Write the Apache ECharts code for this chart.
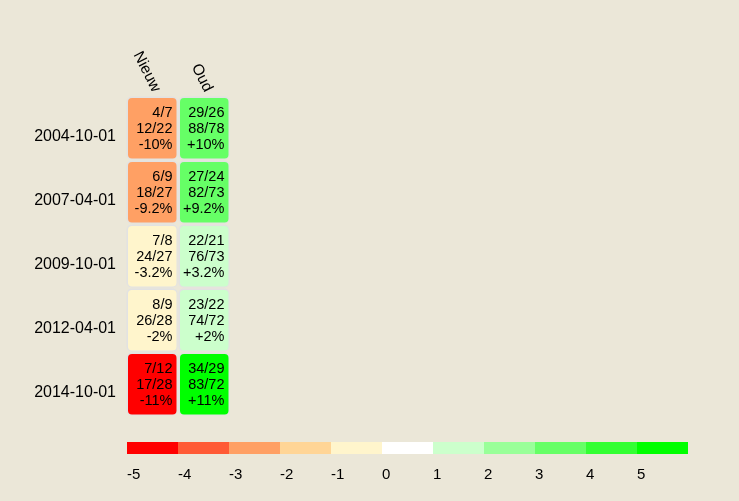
<!DOCTYPE html>
<html>
<head>
<meta charset="utf-8">
<script src="https://cdn.jsdelivr.net/npm/echarts@6/dist/echarts.min.js"></script>
<style>
html,body{margin:0;padding:0;background:#ebe7d8;}
#c{width:739px;height:501px;}
</style>
</head>
<body>
<div id="c"></div>
<script>
// ---- data ----
var dates = ['2004-10-01', '2007-04-01', '2009-10-01', '2012-04-01', '2014-10-01'];
var groups = ['Nieuw', 'Oud'];
var nieuwLine1 = ['4/7', '6/9', '7/8', '8/9', '7/12'];
var nieuwLine2 = ['12/22', '18/27', '24/27', '26/28', '17/28'];
var nieuwPct = ['-10%', '-9.2%', '-3.2%', '-2%', '-11%'];
var nieuwLevel = [-3, -3, -1, -1, -5];
var oudLine1 = ['29/26', '27/24', '22/21', '23/22', '34/29'];
var oudLine2 = ['88/78', '82/73', '76/73', '74/72', '83/72'];
var oudPct = ['+10%', '+9.2%', '+3.2%', '+2%', '+11%'];
var oudLevel = [3, 3, 1, 1, 5];
var legendLevels = [-5, -4, -3, -2, -1, 0, 1, 2, 3, 4, 5];
var legendColors = ['#ff0000', '#ff5a35', '#ffa064', '#ffd596', '#fff5cc', '#ffffff',
                    '#ccffcc', '#99ff99', '#66ff66', '#33ff33', '#00ff00'];

function colorFor(level) { return legendColors[legendLevels.indexOf(level)]; }

var cellData = [];
dates.forEach(function (d, i) {
  cellData.push([0, i, nieuwLevel[i], nieuwLine1[i], nieuwLine2[i], nieuwPct[i]]);
  cellData.push([1, i, oudLevel[i], oudLine1[i], oudLine2[i], oudPct[i]]);
});

var chart = echarts.init(document.getElementById('c'));
var FONT = '"Liberation Sans", Arial, Helvetica, sans-serif';

chart.setOption({
  backgroundColor: '#ebe7d8',
  animation: false,
  grid: [
    { left: 126, top: 96, width: 104, height: 320 },
    { left: 127, top: 442, width: 561, height: 12 }
  ],
  xAxis: [
    {
      type: 'category', gridIndex: 0, data: groups, position: 'top',
      axisLine: { show: false }, axisTick: { show: false }, splitLine: { show: false },
      axisLabel: { show: false }
    },
    {
      type: 'value', gridIndex: 1, min: -5, max: 6, interval: 1,
      axisLine: { show: false }, axisTick: { show: false }, splitLine: { show: false },
      axisLabel: { align: 'left', fontSize: 15, color: '#000', fontFamily: FONT, margin: 13, showMaxLabel: false,
        formatter: function (v) { return legendLevels.indexOf(v) >= 0 ? String(v) : ''; } }
    }
  ],
  yAxis: [
    {
      type: 'category', gridIndex: 0, data: dates, inverse: true,
      axisLine: { show: false }, axisTick: { show: false }, splitLine: { show: false },
      axisLabel: { fontSize: 16, color: '#000', fontFamily: FONT, margin: 10, verticalAlign: 'top', lineHeight: 17 }
    },
    { type: 'value', gridIndex: 1, min: 0, max: 1, show: false }
  ],
  series: [
    {
      type: 'custom', xAxisIndex: 0, yAxisIndex: 0,
      data: cellData,
      renderItem: function (params, api) {
        var c = api.coord([api.value(0), api.value(1)]);
        var s = api.size([1, 1]);
        var w = s[0], h = s[1];
        var x0 = c[0] - w / 2, y0 = c[1] - h / 2;
        var d = cellData[params.dataIndex];
        return {
          type: 'group',
          children: [
            { type: 'rect', shape: { x: x0 + 0.5, y: y0 + 0.5, width: w - 1, height: h - 1, r: 5 },
              style: { fill: '#e2e2e2' } },
            { type: 'rect', shape: { x: x0 + 2, y: y0 + 2, width: w - 3.5, height: h - 3.5, r: 4 },
              style: { fill: colorFor(d[2]) } },
            { type: 'text',
              style: { text: d[3] + '\n' + d[4] + '\n' + d[5], x: x0 + w - 5.5, y: y0 + 8.5,
                align: 'right', verticalAlign: 'top', fontSize: 14.5, fontFamily: FONT,
                lineHeight: 16, fill: '#000' } }
          ]
        };
      }
    },
    {
      // rotated column headers
      type: 'custom', xAxisIndex: 0, yAxisIndex: 0,
      data: groups.map(function (g, i) { return [i, 0]; }),
      renderItem: function (params, api) {
        var c = api.coord([api.value(0), 0]);
        var s = api.size([1, 1]);
        var top = c[1] - s[1] / 2;
        return {
          type: 'text', x: c[0] + 4.5, y: top - 5, rotation: -63 * Math.PI / 180,
          style: { text: groups[params.dataIndex], x: 0, y: 0, align: 'right', verticalAlign: 'middle',
            fontSize: 15.5, fontFamily: FONT, fill: '#000' }
        };
      }
    },
    {
      type: 'custom', xAxisIndex: 1, yAxisIndex: 1,
      data: legendLevels.map(function (v) { return [v]; }),
      renderItem: function (params, api) {
        var v = api.value(0);
        var a = api.coord([v, 0]);
        var b = api.coord([v + 1, 1]);
        return { type: 'rect', shape: { x: a[0], y: b[1], width: b[0] - a[0], height: a[1] - b[1] },
          style: { fill: colorFor(v) } };
      }
    }
  ]
});
</script>
</body>
</html>
